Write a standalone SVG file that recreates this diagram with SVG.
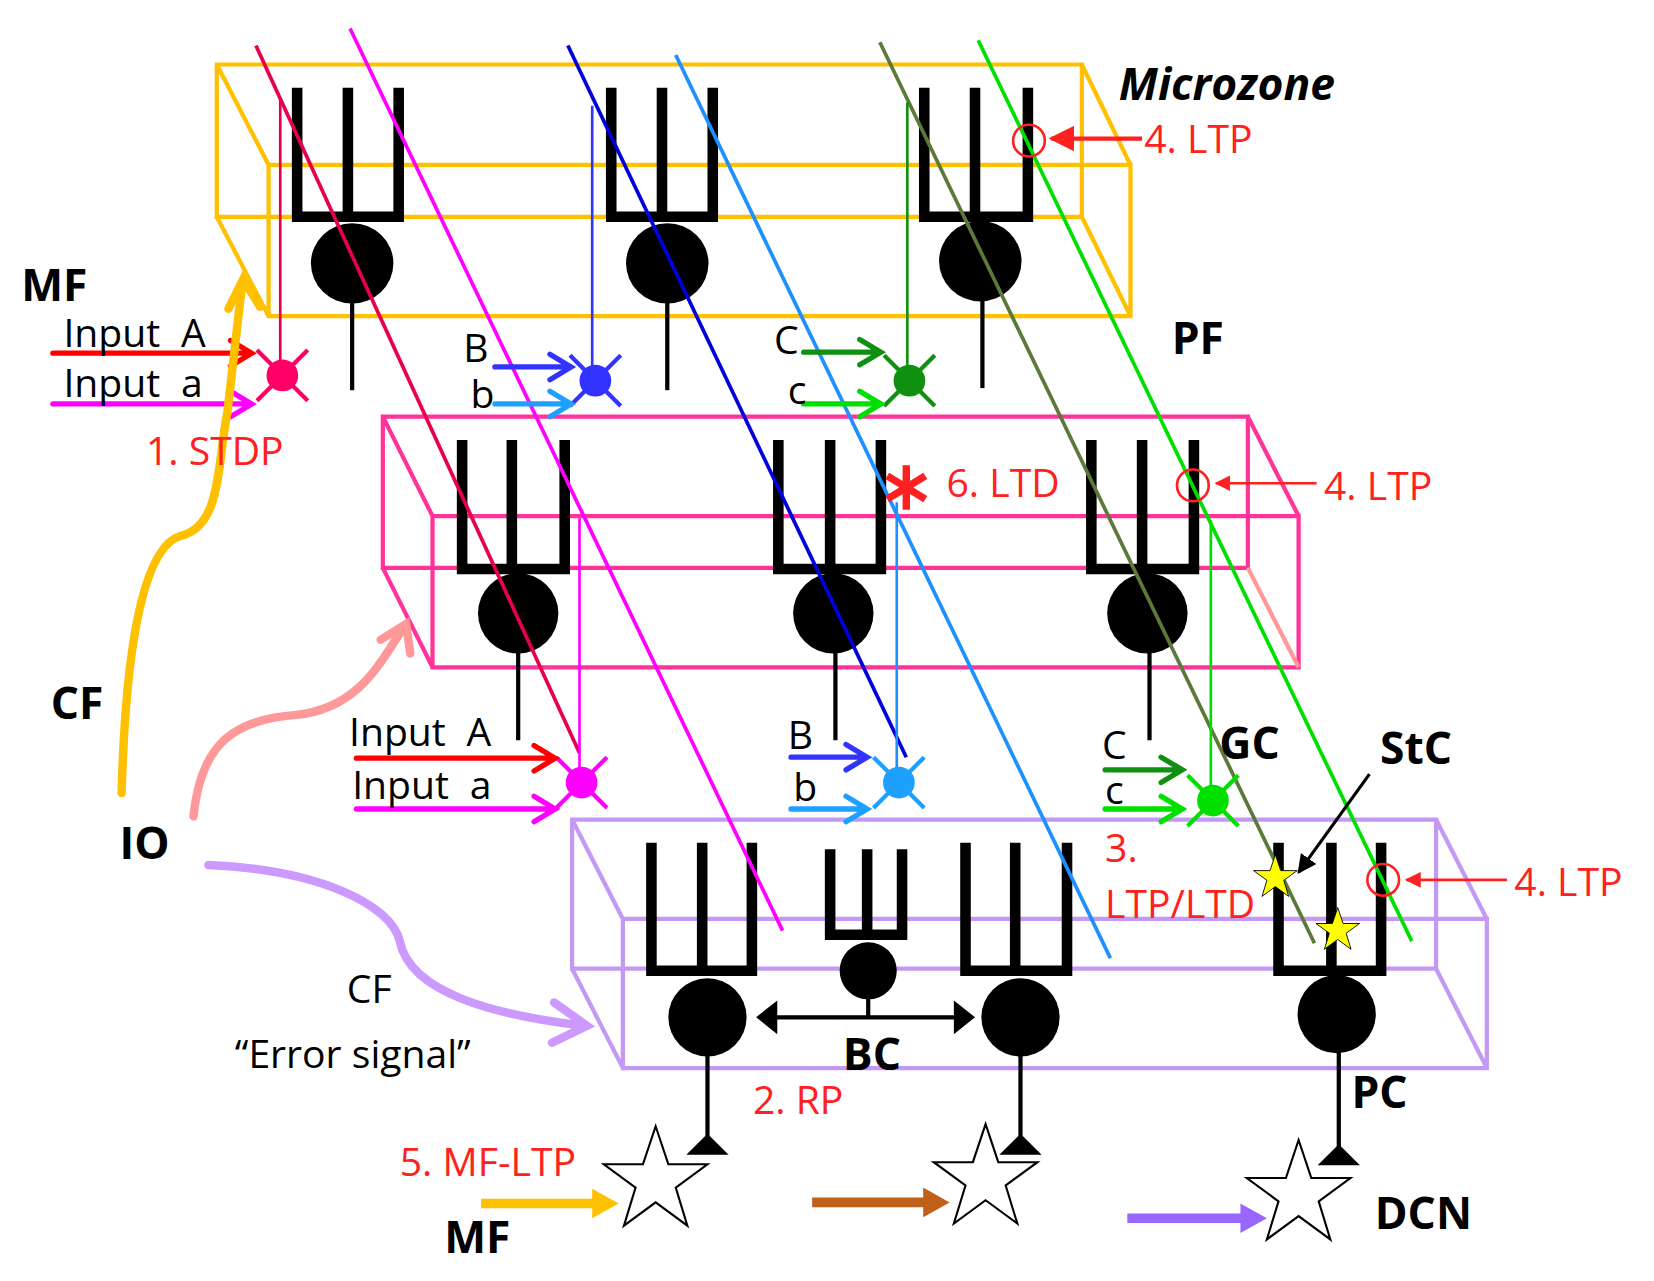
<svg xmlns="http://www.w3.org/2000/svg" width="1654" height="1281" viewBox="0 0 1654 1281">
<style>
.t{font-family:"Open Sans","Noto Sans",sans-serif;font-size:37px}
.w{word-spacing:10px}
.b{font-family:"Open Sans","Noto Sans",sans-serif;font-size:42px;font-weight:bold}
.r{fill:#ff2020}
.box{fill:none;stroke-width:4}
.cell{fill:none;stroke:#000;stroke-width:10;stroke-linecap:square}
.ax{stroke:#000;stroke-width:4}
.pf{stroke-width:3.5;fill:none}
</style>
<defs>
<marker id="ah" viewBox="0 0 10 10" refX="9" refY="5" markerWidth="6" markerHeight="6" orient="auto"><path d="M0,0L10,5L0,10z" fill="#ff2020"/></marker>
<marker id="ahk" viewBox="0 0 10 10" refX="9" refY="5" markerWidth="6" markerHeight="6" orient="auto"><path d="M0,0L10,5L0,10z" fill="#000"/></marker>
</defs>
<rect width="1654" height="1281" fill="#fff"/>
<g transform="scale(1.0575)">
<g id="box-top" class="box" stroke="#ffc000">
<path d="M205,61H1023V205H205Z M254,156H1069V299H254Z M205,61L254,156 M1023,61L1069,156 M205,205L254,299 M1023,205L1069,299"/>
</g>
<g id="box-mid" class="box" stroke="#ff3399">
<path d="M362,394H1180V537H362Z M409,488H1228V631H409Z M362,394L409,488 M1180,394L1228,488 M362,537L409,631"/>
<path d="M1180,537L1228,631" stroke="#ff9999"/>
</g>
<g id="box-bot" class="box" stroke="#c399f5">
<path d="M541,775H1358V916H541Z M589,869H1406V1010H589Z M541,775L589,869 M1358,775L1406,869 M541,916L589,1010 M1358,916L1406,1010"/>
</g>
<g id="pc-top1"><path class="cell" d="M281,88V205H377V88 M329,88V205"/><ellipse cx="333" cy="249" rx="39" ry="38"/><line class="ax" x1="333" y1="285" x2="333" y2="369"/></g>
<g id="pc-top2"><path class="cell" d="M578,88V205H674V88 M626,88V205"/><ellipse cx="631" cy="249" rx="39" ry="38"/><line class="ax" x1="631" y1="285" x2="631" y2="369"/></g>
<g id="pc-top3"><path class="cell" d="M874,88V205H972V88 M922,88V205"/><ellipse cx="927" cy="247" rx="39" ry="38"/><line class="ax" x1="929" y1="283" x2="929" y2="367"/></g>
<g id="pc-mid1"><path class="cell" d="M437,421V538H534V421 M484,421V538"/><ellipse cx="490" cy="580" rx="38" ry="38"/><line class="ax" x1="490" y1="615" x2="490" y2="700"/></g>
<g id="pc-mid2"><path class="cell" d="M736,421V538H833V421 M785,421V538"/><ellipse cx="788" cy="580" rx="38" ry="38"/><line class="ax" x1="790" y1="615" x2="790" y2="700"/></g>
<g id="pc-mid3"><path class="cell" d="M1032,421V538H1129V421 M1080,421V538"/><ellipse cx="1085" cy="580" rx="38" ry="38"/><line class="ax" x1="1087" y1="615" x2="1087" y2="700"/></g>
<g id="pc-bot1"><path class="cell" d="M616,802V918H711V802 M664,802V918"/><ellipse cx="669" cy="962" rx="37" ry="37"/><line class="ax" x1="669" y1="995" x2="669" y2="1080"/><path d="M649,1092L669,1072L689,1092Z"/></g>
<g id="bc"><path class="cell" d="M785,808V884H853V808 M820,808V884" stroke-width="7"/><circle cx="821" cy="918" r="27"/><path class="ax" d="M821,940V962 M730,962H910"/><path d="M715,962L735,946V978Z M922,962L902,946V978Z"/></g>
<g id="pc-bot2"><path class="cell" d="M913,802V918H1009V802 M960,802V918"/><ellipse cx="965" cy="962" rx="37" ry="37"/><line class="ax" x1="965" y1="995" x2="965" y2="1080"/><path d="M945,1092L965,1072L985,1092Z"/></g>
<g id="pc-bot3"><path class="cell" d="M1209,802V918H1306V802 M1259,802V918"/><ellipse cx="1264" cy="959" rx="37" ry="37"/><line class="ax" x1="1266" y1="993" x2="1266" y2="1090"/><path d="M1246,1102L1266,1082L1286,1102Z"/></g>
<g id="dcn" fill="#fff" stroke="#000" stroke-width="2">
<path transform="translate(620,1117)" d="M0,-52L12,-16L49,-16L19,6L30,42L0,20L-30,42L-19,6L-49,-16L-12,-16Z"/>
<path transform="translate(932,1115)" d="M0,-52L12,-16L49,-16L19,6L30,42L0,20L-30,42L-19,6L-49,-16L-12,-16Z"/>
<path transform="translate(1228,1130)" d="M0,-52L12,-16L49,-16L19,6L30,42L0,20L-30,42L-19,6L-49,-16L-12,-16Z"/>
</g>
<g id="connectors">
<line class="pf" stroke="#e8004a" x1="242" y1="43" x2="548" y2="712"/>
<line class="pf" stroke="#ff00ff" x1="331" y1="27" x2="740" y2="880"/>
<line class="pf" stroke="#0000dd" x1="537" y1="43" x2="857" y2="716"/>
<line class="pf" stroke="#1e90ff" x1="639" y1="52" x2="1050" y2="906"/>
<line class="pf" stroke="#5b7a3a" stroke-width="4" x1="832" y1="40" x2="1243" y2="892"/>
<line class="pf" stroke="#00e000" x1="925" y1="38" x2="1335" y2="890"/>
<g stroke-width="2.5">
<line stroke="#e8004a" x1="265" y1="92" x2="265" y2="355"/>
<line stroke="#3333ff" x1="560" y1="100" x2="560" y2="360"/>
<line stroke="#109010" x1="858" y1="97" x2="858" y2="360"/>
<line stroke="#ff00ff" x1="548" y1="490" x2="548" y2="740"/>
<line stroke="#1e90ff" x1="848" y1="475" x2="848" y2="740"/>
<line stroke="#00e000" x1="1145" y1="492" x2="1145" y2="757"/>
</g>
<g stroke-width="4">
<g stroke="#ff0066" fill="#ff0066"><circle cx="267" cy="355" r="13"/><path d="M243,331L291,379M291,331L243,379"/></g>
<g stroke="#3333ff" fill="#3333ff"><circle cx="563" cy="360" r="13"/><path d="M539,336L587,384M587,336L539,384"/></g>
<g stroke="#109010" fill="#109010"><circle cx="860" cy="360" r="13"/><path d="M836,336L884,384M884,336L836,384"/></g>
<g stroke="#ff00ff" fill="#ff00ff"><circle cx="550" cy="740" r="13"/><path d="M526,716L574,764M574,716L526,764"/></g>
<g stroke="#1ea0ff" fill="#1ea0ff"><circle cx="850" cy="740" r="13"/><path d="M826,716L874,764M874,716L826,764"/></g>
<g stroke="#00e000" fill="#00e000"><circle cx="1147" cy="757" r="13"/><path d="M1123,733L1171,781M1171,733L1123,781"/></g>
</g>
<g stroke-width="5" fill="none" stroke-linecap="round">
<path stroke="#ff0000" d="M50,334H236M218,322L238,334L218,346"/>
<path stroke="#ff00ff" d="M50,382H236M218,370L238,382L218,394"/>
<path stroke="#3333ff" d="M468,347H538M520,335L540,347L520,359"/>
<path stroke="#1ea0ff" d="M468,382H538M520,370L540,382L520,394"/>
<path stroke="#109010" d="M760,333H831M813,321L833,333L813,345"/>
<path stroke="#00e000" d="M760,382H831M813,370L833,382L813,394"/>
<path stroke="#ff0000" d="M337,717H523M505,705L525,717L505,729"/>
<path stroke="#ff00ff" d="M337,765H523M505,753L525,765L505,777"/>
<path stroke="#3333ff" d="M748,716H818M800,704L820,716L800,728"/>
<path stroke="#1ea0ff" d="M748,765H818M800,753L820,765L800,777"/>
<path stroke="#109010" d="M1045,728H1116M1098,716L1118,728L1098,740"/>
<path stroke="#00e000" d="M1045,765H1116M1098,753L1118,765L1098,777"/>
</g>
<g fill="none" stroke-width="8" stroke-linecap="round">
<path stroke="#ffc000" d="M115,750C118,640 130,520 170,507C210,498 205,440 215,390L229,268M216,292L230,264L246,290"/>
<path stroke="#ff9999" d="M183,772C190,700 225,680 280,676C340,670 360,625 380,596M360,605L384,590L388,618"/>
<path stroke="#cc99ff" d="M197,818C300,822 370,855 378,890C388,940 470,960 552,970M524,948L555,970L522,986"/>
</g>
<g stroke-width="9">
<line stroke="#ffc000" x1="455" y1="1138" x2="565" y2="1138"/><path fill="#ffc000" d="M560,1124L585,1138L560,1152Z"/>
<line stroke="#c0601a" x1="768" y1="1137" x2="878" y2="1137"/><path fill="#c0601a" d="M873,1123L898,1137L873,1151Z"/>
<line stroke="#9966ff" x1="1066" y1="1152" x2="1178" y2="1152"/><path fill="#9966ff" d="M1173,1138L1198,1152L1173,1166Z"/>
</g>
<g fill="none" stroke="#ff2020" stroke-width="2.5">
<circle cx="973" cy="133" r="15"/><line x1="1080" y1="131" x2="994" y2="131" stroke-width="4" marker-end="url(#ah)"/>
<circle cx="1128" cy="459" r="15"/><line x1="1245" y1="457" x2="1150" y2="457" marker-end="url(#ah)"/>
<circle cx="1308" cy="832" r="15"/><line x1="1425" y1="832" x2="1330" y2="832" marker-end="url(#ah)"/>
<path d="M857,440V482M839,450L875,472M875,450L839,472" stroke-width="7"/>
</g>
<line x1="1295" y1="732" x2="1228" y2="825" stroke="#000" stroke-width="3" marker-end="url(#ahk)"/>
<g fill="#ffff00" stroke="#000" stroke-width="2">
<path transform="translate(1206,830) scale(0.42)" d="M0,-52L12,-16L49,-16L19,6L30,42L0,20L-30,42L-19,6L-49,-16L-12,-16Z"/>
<path transform="translate(1265,880) scale(0.42)" d="M0,-52L12,-16L49,-16L19,6L30,42L0,20L-30,42L-19,6L-49,-16L-12,-16Z"/>
</g>
</g>
<g id="labels">
<text class="b" x="1058" y="95" font-style="italic" font-size="38">Microzone</text>
<text class="t r" x="1082" y="145">4. LTP</text>
<text class="b" x="1108" y="335">PF</text>
<text class="b" x="20" y="285">MF</text>
<text class="t w" x="60" y="328">Input A</text>
<text class="t w" x="60" y="375">Input a</text>
<text class="t r" x="138" y="440">1. STDP</text>
<text class="t" x="438" y="342">B</text>
<text class="t" x="445" y="386">b</text>
<text class="t" x="732" y="335">C</text>
<text class="t" x="745" y="382">c</text>
<text class="t r" x="895" y="470">6. LTD</text>
<text class="t r" x="1252" y="473">4. LTP</text>
<text class="b" x="48" y="680">CF</text>
<text class="t w" x="330" y="705">Input A</text>
<text class="t w" x="333" y="756">Input a</text>
<text class="t" x="745" y="708">B</text>
<text class="t" x="750" y="757">b</text>
<text class="t" x="1042" y="718" font-size="31">C</text>
<text class="t" x="1045" y="760" font-size="31">c</text>
<text class="b" x="1153" y="718">GC</text>
<text class="b" x="1305" y="722">StC</text>
<text class="b" x="113" y="812">IO</text>
<text class="t r" x="1045" y="815">3.</text>
<text class="t r" x="1045" y="868">LTP/LTD</text>
<text class="t r" x="1432" y="847">4. LTP</text>
<text class="t" x="328" y="948">CF</text>
<text class="t" x="222" y="1010">“Error signal”</text>
<text class="b" x="797" y="1012">BC</text>
<text class="t r" x="712" y="1053">2. RP</text>
<text class="b" x="1278" y="1048">PC</text>
<text class="t r" x="378" y="1112">5. MF-LTP</text>
<text class="b" x="420" y="1185">MF</text>
<text class="b" x="1300" y="1162">DCN</text>
</g>
</g>
</svg>
